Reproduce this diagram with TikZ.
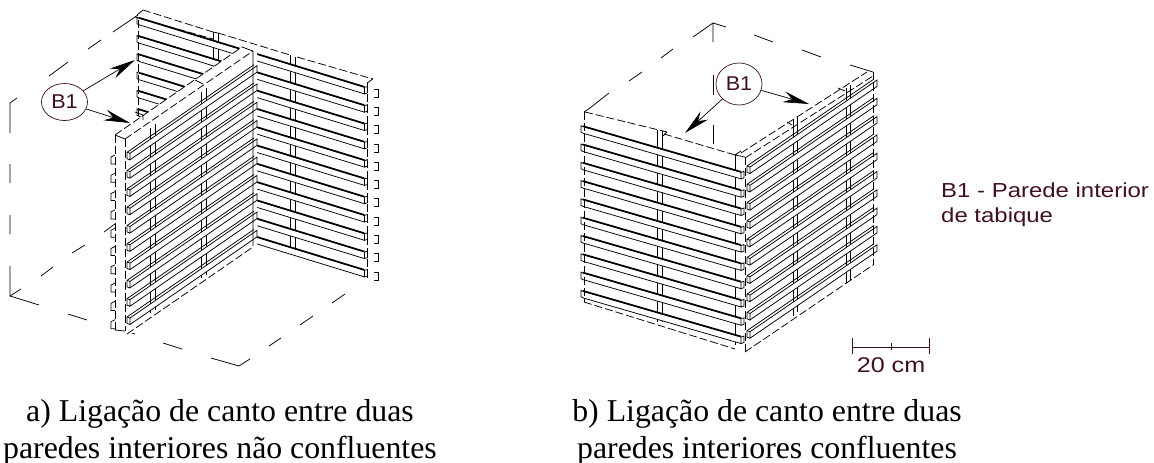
\documentclass[tikz,border=0pt]{standalone}
\usepackage{fontspec}
\setmainfont{Liberation Serif}
\newfontfamily\cadfont[FakeStretch=1.18]{Liberation Sans}
\newfontfamily\bubblefont[FakeStretch=1.08]{Liberation Sans}
\usetikzlibrary{arrows.meta, shapes.geometric}
\definecolor{maroon}{HTML}{40101C}

% a batten of the right-going face: #1 start x, #2 start y, #3 end x, #4 slope
\newcommand{\battendown}[4]{
    \fill[white] (#1,#2) -- (#3,{#2+(#3-#1)*#4}) -- (#3,{#2+(#3-#1)*#4+6.5}) -- (#1,#2+6.5) -- cycle;
    \draw[batten] (#1,#2+6.5) -- (#3,{#2+(#3-#1)*#4+6.5}) -- (#3,{#2+(#3-#1)*#4}) -- (#1,#2);
    \draw[battentop] (#1,#2-0.6) -- (#3,{#2+(#3-#1)*#4-0.6});
    \draw[batten] (#3,{#2+(#3-#1)*#4}) -- ++(3,-1) -- ++(0,6.5) -- ++(-3,1);
    \draw[batten] (#1,#2) -- ++(-2,-1) -- ++(0,6.5) -- ++(2,1);
}
% a batten of the left-going face: #1 start x, #2 start y, #3 end x, #4 slope
\newcommand{\battenup}[4]{
    \fill[white] (#1,#2) -- (#3,{#2-(#3-#1)*#4}) -- (#3,{#2-(#3-#1)*#4+6.5}) -- (#1,#2+6.5) -- cycle;
    \draw[batten] (#1,#2+6.5) -- (#3,{#2-(#3-#1)*#4+6.5}) -- (#3,{#2-(#3-#1)*#4}) -- (#1,#2) -- cycle;
    \draw[batten] (#1-3,#2-1) -- (#1,#2);
    \draw[batten] (#1-3,#2-1) -- (#1-3,#2+5.5) -- (#1,#2+6.5);
    \draw[batten] (#1-3,#2-1) -- (#3-3,{#2-(#3-#1)*#4-1});
}

\begin{document}
\begin{tikzpicture}[
    x=1pt, y=-1pt,
    batten/.style={line width=0.75pt, black},
    battentop/.style={line width=1.5pt, black},
    post/.style={line width=0.75pt, black},
    plate/.style={line width=0.75pt, black, dash pattern=on 8pt off 3pt},
    box/.style={line width=0.75pt, black},
    bubble/.style={ellipse, draw=maroon, line width=0.7pt, inner sep=0pt, font=\bubblefont\fontsize{20}{20}\selectfont, text=maroon},
    pointer/.style={-{Stealth[length=26pt, width=11pt]}, line width=0.7pt, black},
    note/.style={align=left, anchor=north west, inner sep=0pt, text=maroon, font=\cadfont\fontsize{20.3}{25}\selectfont},
    caption/.style={align=center, inner sep=0pt, font=\fontsize{31.8}{36.5}\selectfont}
]
\useasboundingbox (0,0) rectangle (1154,463);

% Left sketch: outer box
\draw[box] (138,15) -- (113,32) (101,40) -- (88,49) (68,62) -- (49,76) (10,133) -- (10,103) -- (17,98);
\draw[box] (10,164) -- (10,183) (10,215) -- (10,234) (10,266) -- (10,296) -- (21,289);
\draw[box] (41,276) -- (53,267) (72,253) -- (85,245) (104,232) -- (115,224);
\draw[box] (10,296) -- (39,305) (68,314) -- (87,320) (115,328) -- (135,334) (163,343) -- (182,349) (211,358) -- (239,366) -- (250,359);
\draw[box] (269,346) -- (281,338) (300,325) -- (313,316) (332,303) -- (345,294);

% Left sketch: back wall
\draw[plate] (143,10) -- (213,32) (218,33) -- (290,55) (297,57) -- (373,79) (135,17) -- (213,39);
\draw[batten] (137,15) -- (143,10) (373,79) -- (367,83) (213,32) -- (218,33);
\draw[post] (213,32) -- (213,75) (218,33) -- (218,65) (290,55) -- (290,250) (295,57) -- (295,250);
\draw[plate] (138,20) -- (138,118) (367,83) -- (367,280);
\foreach \i in {0,...,10}
    \battendown{139}{18.3+18.3*\i}{364.5}{0.3065};
\foreach \i in {0,...,10}
    \draw[batten] (374,{89+18.3*\i}) -- ++(4,0) -- ++(0,8) -- ++(-4,0);

% Left sketch: front wall
\fill[white] (115,135) -- (242,47) -- (257,52) -- (257,246) -- (125,338) -- (115,330) -- cycle;
\draw[post] (150,128) -- (150,313) (155,124) -- (155,310) (201,92) -- (201,278) (206,88) -- (206,275);
\foreach \i in {0,...,9}
    \battenup{130}{153.3+18.3*\i}{257}{0.69};
\draw[plate] (115,135) -- (115,330) (125,139) -- (125,331);
\foreach \i in {0,...,9}
    \draw[batten] (115,{155+18.3*\i}) -- ++(-4,2) -- ++(0,7) -- ++(4,0);
\draw[batten] (115,135) -- (125,139) (115,330) -- (125,331);
\draw[batten] (135,112) -- (143,115) -- (143,120) (195,80) -- (203,84);
\draw[plate] (125,139) -- (253,51) (115,135) -- (242,47);
\draw[batten] (242,47) -- (253,51) (253,51) -- (253,246);
\draw[plate] (127,334) -- (253,247);

% Left sketch: labels
\node[bubble, minimum width=46pt, minimum height=37pt] (labelA) at (64.5,102) {B1};
\coordinate (tipA) at (135,60);
\coordinate (tipB) at (130,123);
\draw[pointer] (labelA) -- (tipA);
\draw[pointer] (labelA) -- (tipB);

% Right sketch: outer box
\draw[box] (713,42) -- (713,23) -- (693,37) (673,49) -- (661,58) (642,72) -- (629,81) (609,93) -- (590,108);
\draw[box] (713,23) -- (726,27) (754,35) -- (773,42) (802,50) -- (821,57) (850,65) -- (873,72);
\draw[box] (713,75) -- (713,95) (713,125) -- (713,144);

% Right sketch: posts and walls
\draw[post] (657,130) -- (657,322) (662,131) -- (662,322) (735,155) -- (735,345) (793,120) -- (793,316) (797,117) -- (797,312) (846,88) -- (846,283) (850,85) -- (850,280);
\foreach \i in {0,...,9}
    \battendown{583}{126.7+18.3*\i}{741}{0.289};
\foreach \i in {0,...,9}
    \battenup{750}{167+18.3*\i}{877}{0.685};
\draw[plate] (584,112) -- (584,302) (873,72) -- (873,265) (745,157) -- (745,352);
\draw[batten] (584,112) -- (590,108) (735,155) -- (745,157) (735,155) -- (741,151);
\draw[batten] (787,122) -- (792,125) (838,88) -- (845,91) (663,131) -- (667,132) (667,132) -- (663,136);
\draw[plate] (585,112) -- (663,131) (664,134) -- (735,155) (741,153) -- (867,72) (745,158) -- (873,76);
\draw[plate] (584,302) -- (735,349) (745,352) -- (873,265);

% Right sketch: labels
\node[bubble, minimum width=46pt, minimum height=42pt] (labelC) at (739,84) {B1};
\coordinate (tipC) at (685,133);
\coordinate (tipD) at (809,104);
\draw[pointer] (labelC) -- (tipC);
\draw[pointer] (labelC) -- (tipD);

% Scale bar
\coordinate (barL) at (852,347);
\coordinate (barM) at (891,347);
\coordinate (barR) at (929,347);
\draw[box, maroon] (barL) -- (barR);
\draw[box, maroon] (852,338) -- (852,354) (891,343) -- (891,350) (929,338) -- (929,354);
\node[note, anchor=base, font=\cadfont\fontsize{21.3}{25}\selectfont] (barText) at (891,372) {20 cm};

% Notes and captions
\node[note] (noteB) at (941,183) {B1 - Parede interior\\de tabique};
\node[caption] (capA) at (220,432.5) {a) Ligação de canto entre duas\\paredes interiores não confluentes};
\node[caption] (capB) at (767,432.5) {b) Ligação de canto entre duas\\paredes interiores confluentes};
\end{tikzpicture}
\end{document}
